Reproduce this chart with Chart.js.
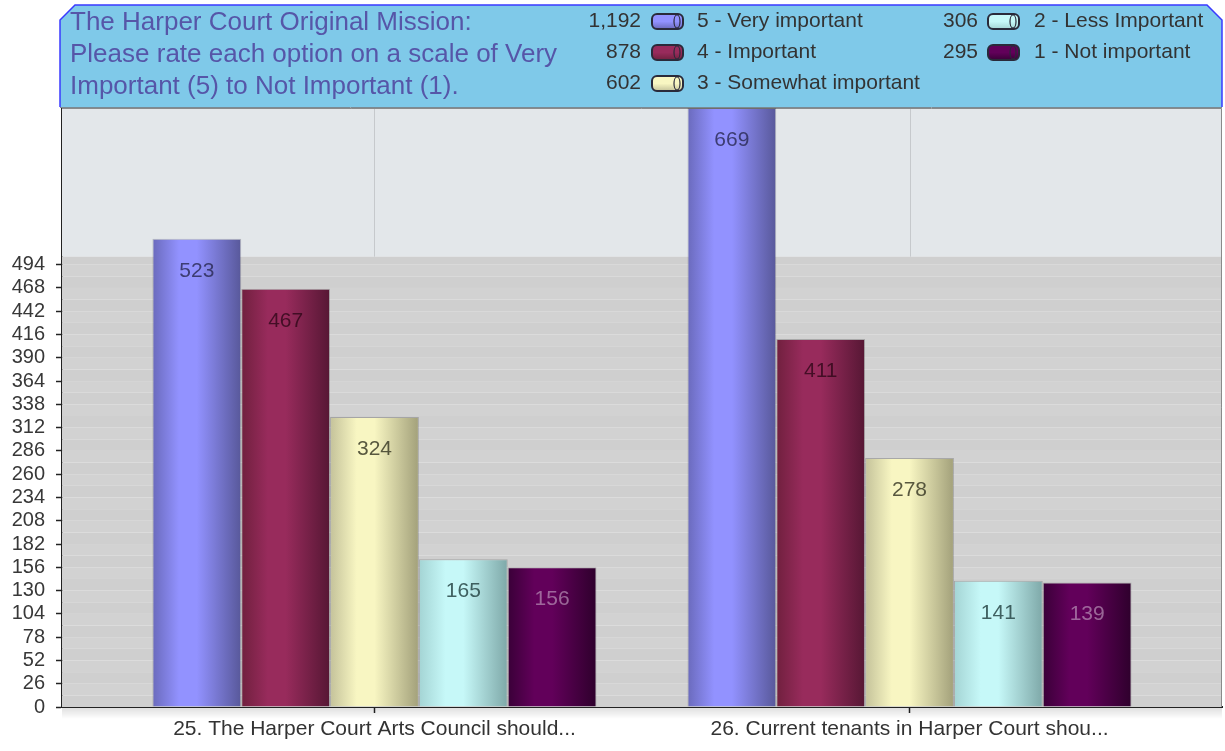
<!DOCTYPE html>
<html>
<head>
<meta charset="utf-8">
<script src="https://cdn.jsdelivr.net/npm/chart.js@4/dist/chart.umd.min.js"></script>
<style>
  html, body { margin: 0; padding: 0; background: #fff; }
  #chart { display: block; }
</style>
</head>
<body>
<canvas id="chart" width="1225" height="751"></canvas>
<script>
// values
const categories = ["25. The Harper Court Arts Council should...", "26. Current tenants in Harper Court shou..."];
const seriesNames = ["5 - Very important", "4 - Important", "3 - Somewhat important", "2 - Less Important", "1 - Not important"];
const veryImportant = [523, 669];
const important = [467, 411];
const somewhat = [324, 278];
const lessImportant = [165, 141];
const notImportant = [156, 139];
const yTickMax = 494;
const yTickStep = 26;
const titleLines = ["The Harper Court Original Mission:", "Please rate each option on a scale of Very", "Important (5) to Not Important (1)."];

const seriesValues = [veryImportant, important, somewhat, lessImportant, notImportant];

// cylinder look: left edge, highlight, right edge
const barColors = [
    ["#6a6abc", "#9292ff", "#58589a"],
    ["#70203e", "#982b5c", "#561734"],
    ["#c4c29a", "#f8f6c2", "#a2a07a"],
    ["#a4d4d4", "#c6f8f8", "#7ea8a8"],
    ["#3a0038", "#62005a", "#2e002c"]
];
const labelColors = ["rgba(40,40,80,0.8)", "rgba(40,5,20,0.75)", "rgba(60,60,40,0.85)", "rgba(40,70,70,0.85)", "rgba(200,170,200,0.6)"];

const FONT = "'Liberation Sans', Arial, sans-serif";
const catPct = 0.83;
const bandTop = 503;

function barGradient(c) {
    const chart = c.chart;
    const xs = chart.scales.x;
    const colors = barColors[c.datasetIndex];
    if (!xs || !chart.chartArea) return colors[1];
    const n = seriesValues.length;
    const w = (xs.getPixelForValue(1) - xs.getPixelForValue(0)) * catPct / n;
    const left = xs.getPixelForValue(c.dataIndex) + (c.datasetIndex - n / 2) * w;
    const g = chart.ctx.createLinearGradient(left, 0, left + w, 0);
    g.addColorStop(0, colors[0]);
    g.addColorStop(0.3, colors[1]);
    g.addColorStop(0.5, colors[1]);
    g.addColorStop(1, colors[2]);
    return g;
}

const datasets = seriesNames.map((name, i) => ({
    label: name,
    data: seriesValues[i].map((v, j) => ({ x: j, y: v })),
    backgroundColor: barGradient,
    borderColor: "rgba(0,0,0,0.2)",
    borderWidth: 1,
    borderSkipped: "bottom",
    categoryPercentage: catPct,
    barPercentage: 1
}));

// plot background: light band on top, faintly striped grey below
const backdrop = {
    id: "backdrop",
    beforeDatasetsDraw(chart) {
        const { ctx, chartArea: a, scales: { x, y } } = chart;
        const split = y.getPixelForValue(bandTop);
        ctx.save();
        ctx.fillStyle = "#e3e7ea";
        ctx.fillRect(a.left, a.top, a.right - a.left, split - a.top);
        for (let v = 0; v < bandTop; v += 13) {
            const y0 = y.getPixelForValue(Math.min(v + 13, bandTop));
            const y1 = y.getPixelForValue(v);
            ctx.fillStyle = (v / 13) % 2 ? "#d2d2d2" : "#cfcfcf";
            ctx.fillRect(a.left, y0, a.right - a.left, y1 - y0);
        }
        ctx.strokeStyle = "#c6c9cc";
        ctx.lineWidth = 1;
        categories.forEach((c, i) => {
            const px = Math.round(x.getPixelForValue(i)) + 0.5;
            ctx.beginPath();
            ctx.moveTo(px, a.top);
            ctx.lineTo(px, split);
            ctx.stroke();
        });
        // right / top frame
        ctx.strokeStyle = "#8a8a8a";
        ctx.beginPath();
        ctx.moveTo(a.left, a.top + 0.5);
        ctx.lineTo(a.right - 0.5, a.top + 0.5);
        ctx.lineTo(a.right - 0.5, a.bottom);
        ctx.stroke();
        // soft shadow under the axis
        const sg = ctx.createLinearGradient(0, a.bottom + 1, 0, a.bottom + 12);
        sg.addColorStop(0, "rgba(0,0,0,0.12)");
        sg.addColorStop(1, "rgba(0,0,0,0)");
        ctx.fillStyle = sg;
        ctx.fillRect(a.left, a.bottom + 1, a.right - a.left, 11);
        ctx.restore();
    }
};

// values printed inside the bars
const barValues = {
    id: "barValues",
    afterDatasetsDraw(chart) {
        const ctx = chart.ctx;
        ctx.save();
        ctx.font = "21px " + FONT;
        ctx.textAlign = "center";
        ctx.textBaseline = "middle";
        chart.data.datasets.forEach((ds, i) => {
            chart.getDatasetMeta(i).data.forEach((el, j) => {
                ctx.fillStyle = labelColors[i];
                ctx.fillText(String(seriesValues[i][j]), el.x, el.y + 32);
            });
        });
        ctx.restore();
    }
};

function drawSwatch(ctx, x, y, w, h, colors) {
    const r = 5;
    const g = ctx.createLinearGradient(0, y, 0, y + h);
    g.addColorStop(0, colors[1]);
    g.addColorStop(0.5, colors[1]);
    g.addColorStop(1, colors[0]);
    ctx.beginPath();
    ctx.roundRect(x, y, w, h, r);
    ctx.fillStyle = g;
    ctx.fill();
    ctx.lineWidth = 2;
    ctx.strokeStyle = "#2a2a3a";
    ctx.stroke();
    ctx.beginPath();
    ctx.ellipse(x + w - 6, y + h / 2, 3, h / 2 - 1, 0, 0, Math.PI * 2);
    ctx.lineWidth = 1.2;
    ctx.stroke();
}

// header box with title and legend
const header = {
    id: "header",
    afterDraw(chart) {
        const ctx = chart.ctx;
        const L = 60, R = 1222, T = 5, B = 107, cut = 15;
        ctx.save();
        ctx.beginPath();
        ctx.moveTo(L, B);
        ctx.lineTo(L, T + cut);
        ctx.lineTo(L + cut, T);
        ctx.lineTo(R - cut, T);
        ctx.lineTo(R, T + cut);
        ctx.lineTo(R, B);
        ctx.fillStyle = "#7fc9e9";
        ctx.fill();
        ctx.strokeStyle = "#3a3aff";
        ctx.lineWidth = 1.5;
        ctx.stroke();
        ctx.strokeStyle = "#7a8a94";
        ctx.lineWidth = 1;
        ctx.beginPath();
        ctx.moveTo(L, B + 0.5);
        ctx.lineTo(R, B + 0.5);
        ctx.stroke();

        ctx.font = "26px " + FONT;
        ctx.fillStyle = "#5656a8";
        ctx.textBaseline = "middle";
        ctx.textAlign = "left";
        titleLines.forEach((t, i) => ctx.fillText(t, 70, 23 + i * 32));

        const cols = [{ valRight: 641, sw: 652, text: 697 }, { valRight: 978, sw: 988, text: 1034 }];
        ctx.font = "21px " + FONT;
        seriesNames.forEach((name, i) => {
            const col = cols[i < 3 ? 0 : 1];
            const cy = 21 + (i < 3 ? i : i - 3) * 31;
            const total = seriesValues[i].reduce((s, v) => s + v, 0);
            ctx.fillStyle = "#333";
            ctx.textAlign = "right";
            ctx.fillText(total.toLocaleString("en-US"), col.valRight, cy);
            ctx.textAlign = "left";
            ctx.fillText(name, col.text, cy);
            drawSwatch(ctx, col.sw, cy - 7, 31, 15, barColors[i]);
        });
        ctx.restore();
    }
};

const xMin = -0.584;
const xMax = 1.584;

new Chart(document.getElementById("chart"), {
    type: "bar",
    data: { datasets },
    options: {
        responsive: false,
        animation: false,
        layout: { padding: { top: 108, right: 3, left: 0, bottom: 0 } },
        plugins: {
            legend: { display: false },
            title: { display: false },
            tooltip: { enabled: false }
        },
        scales: {
            x: {
                type: "linear",
                min: xMin,
                max: xMax,
                offset: false,
                afterBuildTicks: s => { s.ticks = categories.map((c, i) => ({ value: i })); },
                afterFit: s => { s.height = 44; },
                ticks: {
                    autoSkip: false,
                    maxRotation: 0,
                    padding: 4,
                    color: "#333",
                    font: { family: FONT, size: 21 },
                    callback: v => categories[v]
                },
                grid: { offset: false, drawOnChartArea: false, tickLength: 6, tickColor: "#222", tickWidth: 1.5 },
                border: { color: "#222", width: 2 }
            },
            y: {
                min: 0,
                max: 669,
                afterBuildTicks: s => { s.ticks = s.ticks.filter(t => t.value <= yTickMax); },
                afterFit: s => { s.width = 62; },
                ticks: {
                    stepSize: yTickStep,
                    autoSkip: false,
                    padding: 11,
                    color: "#383838",
                    font: { family: FONT, size: 20 }
                },
                grid: { drawOnChartArea: false, tickLength: 6, tickColor: "#222", tickWidth: 1.5 },
                border: { color: "#222", width: 2 }
            }
        }
    },
    plugins: [backdrop, barValues, header]
});
</script>
</body>
</html>
